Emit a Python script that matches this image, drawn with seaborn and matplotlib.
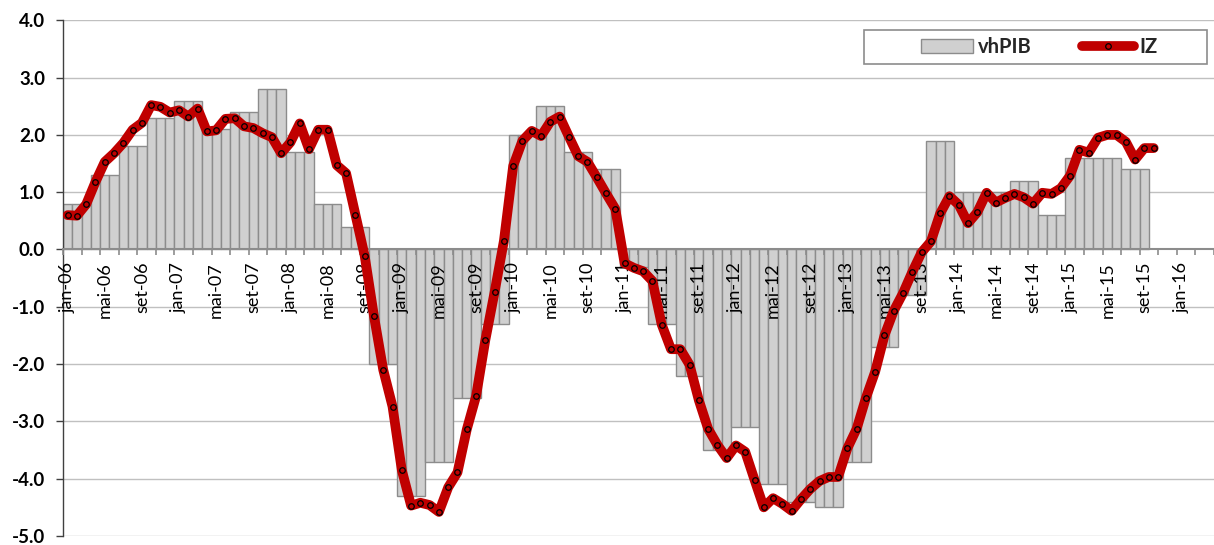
import numpy as np
import pandas as pd
import matplotlib
matplotlib.use("Agg")
import matplotlib.pyplot as plt
from matplotlib.patches import Patch, Rectangle
from matplotlib.lines import Line2D
import seaborn as sns

# Month categories (Portuguese abbreviations), jan-06 .. abr-16
month_abbr = ["jan", "fev", "mar", "abr", "mai", "jun",
              "jul", "ago", "set", "out", "nov", "dez"]
months = [f"{month_abbr[i % 12]}-{6 + i // 12:02d}" for i in range(124)]

# GDP year-on-year change, one value per quarter (1T06 .. 3T15)
vhpib_quarterly = [0.8, 1.3, 1.8, 2.3,
                   2.6, 2.1, 2.4, 2.8,
                   1.7, 0.8, 0.4, -2.0,
                   -4.3, -3.7, -2.6, -1.3,
                   2.0, 2.5, 1.7, 1.4,
                   -0.3, -1.3, -2.2, -3.5,
                   -3.1, -4.1, -4.4, -4.5,
                   -3.7, -1.7, -0.8, 1.9,
                   1.0, 1.0, 1.2, 0.6,
                   1.6, 1.6, 1.4]

# Monthly composite indicator IZ (jan-06 .. out-15)
iz = [0.60, 0.59, 0.79, 1.18, 1.53, 1.68, 1.86, 2.09, 2.21, 2.52, 2.49, 2.39,
      2.43, 2.32, 2.46, 2.06, 2.08, 2.28, 2.29, 2.15, 2.12, 2.03, 1.96, 1.68,
      1.87, 2.20, 1.75, 2.09, 2.09, 1.47, 1.33, 0.61, -0.11, -1.16, -2.10, -2.74,
      -3.85, -4.47, -4.42, -4.46, -4.58, -4.15, -3.89, -3.14, -2.56, -1.58, -0.74, 0.15,
      1.46, 1.90, 2.07, 1.98, 2.23, 2.32, 1.97, 1.63, 1.53, 1.26, 0.98, 0.71,
      -0.24, -0.32, -0.38, -0.55, -1.31, -1.74, -1.74, -2.01, -2.63, -3.13, -3.41, -3.64,
      -3.42, -3.53, -4.02, -4.50, -4.34, -4.44, -4.56, -4.36, -4.18, -4.04, -3.97, -3.97,
      -3.47, -3.13, -2.59, -2.13, -1.50, -1.07, -0.76, -0.39, -0.05, 0.14, 0.63, 0.93,
      0.78, 0.46, 0.65, 0.99, 0.82, 0.90, 0.97, 0.91, 0.80, 0.99, 0.97, 1.07,
      1.29, 1.74, 1.69, 1.95, 2.00, 2.00, 1.88, 1.57, 1.77, 1.77]

y_ticks = [4, 3, 2, 1, 0, -1, -2, -3, -4, -5]

# each quarterly value is shown on its three months
vhpib_monthly = np.repeat(vhpib_quarterly, 3)
bars = pd.DataFrame({"mes": months[:len(vhpib_monthly)], "vhPIB": vhpib_monthly})

sns.set_theme(style="white")
plt.rcParams["font.family"] = ["Lato", "DejaVu Sans"]

W, H = 1214, 545
fig = plt.figure(figsize=(W / 100, H / 100), dpi=100)
px_month = 9.31
x_left = 63
y_top, y_bot = 20.3, 536.0
n_vis = (W - x_left) / px_month
ax = fig.add_axes([x_left / W, (H - y_bot) / H, (W - x_left) / W, (y_bot - y_top) / H])

bar_fill = "#d0d0d0"
bar_edge = "#8c8c8c"
red = "#c00000"
line_w = 7.0
mk_size = 4.0

# horizontal gridlines, beneath everything
ax.grid(False)
for v in y_ticks:
    if v != 0:
        ax.axhline(v, color="#c0c0c0", linewidth=1.0, zorder=0.5)

sns.barplot(data=bars, x="mes", y="vhPIB", order=months, width=1.0,
            color=bar_fill, edgecolor=bar_edge, linewidth=1.0,
            saturation=1, ax=ax, zorder=2)

sns.lineplot(x=np.arange(len(iz)), y=iz, ax=ax, color=red, linewidth=line_w,
             marker="o", markersize=mk_size, markerfacecolor=red,
             markeredgecolor="black", markeredgewidth=0.9, zorder=4,
             solid_joinstyle="round", solid_capstyle="round")

ax.set_xlim(-0.5, n_vis - 0.5)
ax.set_ylim(-5, 4)
ax.set_xlabel("")
ax.set_ylabel("")

# y axis
ax.set_yticks(y_ticks)
ax.set_yticklabels([f"{v:.1f}" for v in y_ticks], fontsize=13.5,
                   fontweight="bold", color="black")
ax.tick_params(axis="y", which="major", direction="out", length=5,
               width=1, color="#404040", pad=8, left=True)

# category axis sitting on zero, its labels drawn over the bars
for s in ("top", "right"):
    ax.spines[s].set_visible(False)
ax.spines["left"].set_color("#404040")
ax.spines["left"].set_linewidth(1.0)
ax.spines["bottom"].set_position(("data", 0))
ax.spines["bottom"].set_color("#8c8c8c")
ax.spines["bottom"].set_linewidth(1.5)
ax.spines["bottom"].set_zorder(3)
ax.xaxis.set_zorder(3)

label_pos = list(range(0, 121, 4))
ax.set_xticks(label_pos)
ax.set_xticklabels([months[i] for i in label_pos], rotation=90,
                   fontsize=13, color="black")
ax.set_xticks(np.arange(-0.5, n_vis, 2), minor=True)
ax.tick_params(axis="x", which="major", length=0, pad=9, bottom=True)
ax.tick_params(axis="x", which="minor", direction="out", length=4.5,
               width=1.2, color="#8c8c8c", bottom=True)

# legend with its own frame box
frame = Rectangle((0.696, 0.915), 0.298, 0.066, transform=ax.transAxes,
                  facecolor="white", edgecolor="#8c8c8c", linewidth=1.2,
                  zorder=5)
ax.add_patch(frame)
handles = [Patch(facecolor=bar_fill, edgecolor=bar_edge, linewidth=1.0),
           Line2D([0], [0], color=red, linewidth=line_w, marker="o",
                  markersize=mk_size, markerfacecolor=red,
                  markeredgecolor="black", markeredgewidth=0.9,
                  solid_capstyle="round")]
leg = ax.legend(handles, ["vhPIB", "IZ"], ncol=2, loc="center",
                bbox_to_anchor=(0.848, 0.948), frameon=False,
                prop={"weight": "bold", "size": 14.5},
                handlelength=2.6, handleheight=0.7, handletextpad=0.25,
                columnspacing=2.5, borderpad=0.2)
leg.set_zorder(6)

fig.savefig("out.png", dpi=100)
